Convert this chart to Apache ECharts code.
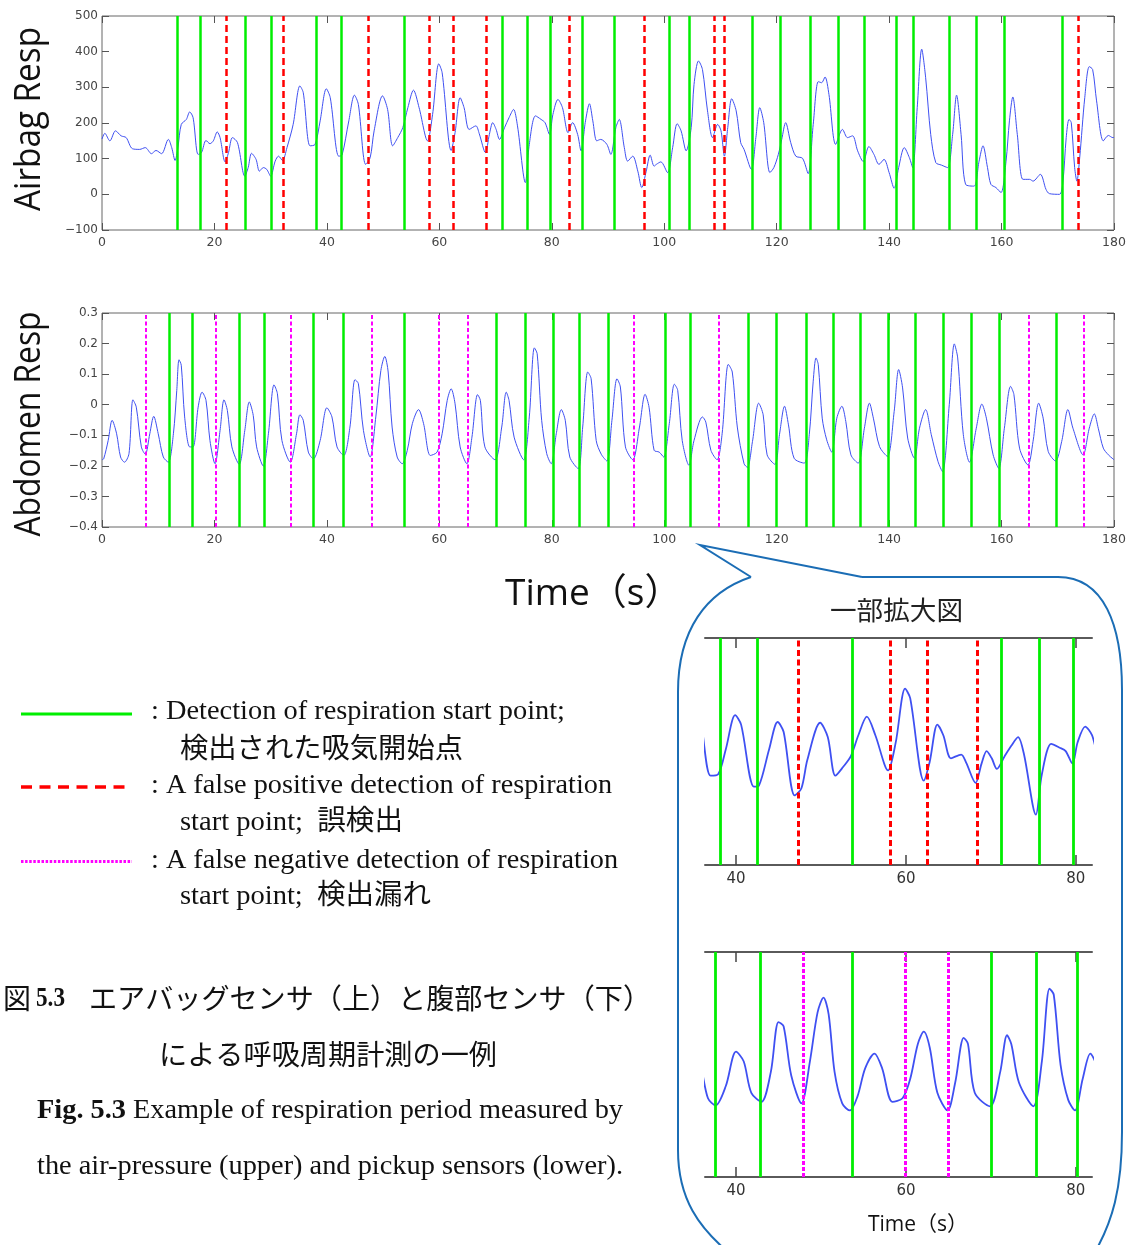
<!DOCTYPE html>
<html><head><meta charset="utf-8">
<script src="https://cdn.jsdelivr.net/npm/echarts@6/dist/echarts.min.js"></script>
<style>html,body{margin:0;padding:0;background:#fff}#c{width:1131px;height:1245px}</style>
</head><body><div id="c"></div>
<script>
// ---------------- DATA ----------------
const airbag = [[0,155],[0.5,171],[1.4,150],[2.4,178],[3.4,164],[4.3,159],[5.4,128],[6.7,126],[7.7,131],[8.8,114],[9.6,123],[10.6,114],[11.8,154],[12.4,131],[13.0,95],[13.5,131],[14.1,196],[15.0,210],[15.6,231],[16.2,215],[17.1,112],[17.7,117],[18.5,151],[19.2,142],[19.8,150],[20.5,175],[21.0,159],[21.9,91],[22.5,117],[23.2,159],[24.1,145],[25.4,51],[26.0,75],[26.6,115],[27.4,98],[28.0,65],[28.7,75],[29.3,70],[30.0,51],[30.8,93],[31.4,107],[32.1,95],[32.9,131],[34.0,196],[35.2,304],[35.8,285],[37.0,136],[37.9,140],[38.8,206],[39.9,296],[40.6,271],[42.1,107],[42.7,110],[43.9,206],[44.9,278],[45.6,252],[46.9,84],[47.7,103],[48.4,178],[49.9,276],[50.8,238],[51.7,136],[52.6,159],[53.5,187],[54.4,243],[55.4,292],[56.4,243],[57.9,150],[58.8,224],[59.9,366],[60.5,341],[62.1,123],[62.8,173],[63.7,271],[64.4,243],[65.3,182],[66.5,192],[67.1,170],[68.2,117],[68.9,168],[69.5,201],[70.1,182],[70.7,154],[71.6,187],[72.4,215],[73.2,238],[73.9,192],[75.3,33],[76.0,140],[77.1,220],[78.1,210],[78.8,201],[79.6,168],[80.2,224],[81.1,266],[81.9,243],[82.9,173],[83.7,201],[84.6,168],[85.2,122],[86.0,206],[86.7,254],[87.3,206],[88.0,150],[88.7,154],[89.8,140],[90.5,112],[91.4,187],[92.0,210],[92.9,131],[93.5,93],[94.4,107],[95.3,65],[96.0,19],[96.8,65],[97.5,110],[98.2,79],[98.6,84],[99.4,91],[100.6,61],[101.5,131],[102.3,198],[103.0,178],[103.9,122],[104.8,187],[105.3,308],[106.1,374],[106.8,350],[107.7,234],[108.6,159],[109.5,196],[110.1,178],[110.7,107],[111.3,187],[112.0,268],[112.8,234],[113.6,145],[114.2,126],[115.5,70],[116.3,159],[117.0,243],[117.7,201],[118.8,61],[119.5,75],[120.3,112],[120.9,154],[121.6,201],[122.5,145],[123.4,107],[124.6,101],[125.6,58],[126.5,196],[127.4,316],[128.0,313],[128.6,329],[129.3,280],[130.5,140],[131.7,182],[132.6,159],[133.5,164],[134.4,122],[135.4,92],[136.4,134],[137.3,112],[138.2,84],[139.1,98],[140.0,61],[140.9,17],[141.7,75],[142.7,131],[143.6,103],[144.2,75],[145.0,243],[145.8,407],[146.5,327],[147.4,168],[148.3,89],[149.3,82],[150.4,75],[151.3,168],[152.0,278],[152.8,168],[153.6,28],[155.1,23],[156.0,93],[156.7,136],[157.5,75],[158.1,28],[159.0,19],[159.9,5],[160.8,93],[161.4,206],[162.0,273],[162.8,168],[163.8,42],[165.0,42],[165.6,37],[166.9,56],[167.9,14],[168.5,2],[170.3,0],[170.9,33],[171.5,159],[172.0,210],[172.4,201],[173.0,75],[173.4,37],[173.9,103],[174.8,271],[175.6,358],[176.2,350],[176.9,262],[178.1,150],[179.0,165],[179.8,159],[180,160]];

const abdomen = [[0,-0.18],[0.3,-0.177],[1.1,-0.117],[1.8,-0.051],[2.6,-0.095],[3.3,-0.171],[4.0,-0.188],[4.8,-0.160],[5.5,0.016],[6.1,-0.008],[7.0,-0.138],[7.7,-0.162],[8.5,-0.095],[9.2,-0.038],[10.0,-0.095],[10.9,-0.171],[11.8,-0.188],[12.7,-0.095],[13.3,0.047],[13.7,0.147],[14.1,0.129],[14.7,-0.040],[15.6,-0.138],[16.2,-0.138],[17.1,-0.008],[17.8,0.041],[18.5,0.014],[19.2,-0.117],[20.1,-0.193],[21.0,-0.084],[21.7,0.016],[22.3,-0.019],[23.1,-0.138],[24.4,-0.195],[25.4,-0.084],[26.2,0.009],[26.9,-0.035],[27.5,-0.138],[28.7,-0.201],[29.6,-0.095],[30.6,0.065],[31.2,0.036],[32.0,-0.117],[33.5,-0.188],[34.6,-0.095],[35.2,-0.033],[35.8,-0.051],[36.7,-0.155],[37.6,-0.177],[38.8,-0.117],[40.0,-0.010],[40.9,-0.040],[41.8,-0.138],[43.0,-0.166],[44.1,-0.073],[45.0,0.082],[45.6,0.069],[46.5,-0.084],[47.7,-0.171],[48.7,-0.040],[49.6,0.112],[50.3,0.158],[50.9,0.107],[51.6,-0.073],[52.5,-0.171],[53.4,-0.193],[54.3,-0.149],[55.2,-0.062],[56.3,-0.016],[57.2,-0.062],[58.4,-0.166],[59.6,-0.155],[60.5,-0.095],[61.4,0.014],[62.1,0.052],[62.8,0.003],[63.7,-0.138],[64.9,-0.193],[65.8,-0.106],[66.8,0.033],[67.3,0.014],[68.1,-0.138],[69.9,-0.180],[71.1,-0.073],[71.9,0.041],[72.4,0.014],[73.3,-0.106],[75.0,-0.180],[76.0,-0.040],[76.9,0.186],[77.4,0.167],[78.2,-0.051],[79.1,-0.160],[79.9,-0.193],[80.8,-0.095],[81.7,-0.016],[82.4,-0.051],[83.2,-0.171],[84.7,-0.209],[85.5,-0.073],[86.4,0.107],[87.0,0.085],[87.9,-0.117],[88.8,-0.162],[89.8,-0.184],[90.7,-0.051],[91.6,0.085],[92.2,0.058],[93.1,-0.138],[94.4,-0.180],[95.6,-0.073],[96.6,0.034],[97.3,-0.008],[98.2,-0.149],[99.1,-0.155],[99.9,-0.171],[100.9,-0.062],[101.8,0.067],[102.4,0.047],[103.2,-0.117],[104.4,-0.198],[105.3,-0.117],[106.8,-0.040],[107.4,-0.057],[108.3,-0.149],[109.4,-0.180],[110.3,-0.095],[111.4,0.132],[112.1,0.107],[113.0,-0.073],[114.2,-0.193],[114.8,-0.205],[115.7,-0.120],[116.8,0.005],[117.6,-0.033],[118.3,-0.164],[119.7,-0.195],[120.5,-0.098],[121.4,-0.005],[122.1,-0.066],[123.1,-0.175],[124.9,-0.191],[125.8,-0.098],[126.5,0.077],[127.0,0.153],[127.4,0.131],[128.1,-0.044],[128.9,-0.115],[129.8,-0.155],[130.7,-0.044],[131.6,-0.005],[132.3,-0.055],[133.2,-0.164],[134.5,-0.191],[135.6,-0.077],[136.5,0.005],[137.2,-0.044],[138.3,-0.137],[139.7,-0.169],[140.9,-0.022],[141.7,0.115],[142.4,0.055],[143.3,-0.109],[144.5,-0.175],[145.4,-0.077],[146.5,-0.016],[147.5,-0.098],[148.7,-0.186],[149.5,-0.219],[150.7,0],[151.6,0.199],[152.2,0.153],[153.2,-0.098],[154.3,-0.188],[155.5,-0.077],[156.5,0.002],[157.3,-0.044],[158.5,-0.164],[159.5,-0.208],[160.5,-0.077],[161.6,0.060],[162.2,0.033],[163.2,-0.142],[164.7,-0.197],[165.6,-0.120],[166.6,0.005],[167.4,-0.044],[168.3,-0.153],[169.6,-0.184],[170.7,-0.120],[171.8,-0.016],[172.7,-0.077],[174.5,-0.164],[175.6,-0.077],[176.5,-0.030],[177.2,-0.077],[178.1,-0.142],[179.0,-0.164],[179.8,-0.177],[180,-0.18]];

const greenTop = [13.3,17.5,25.4,30.1,38.1,42.5,53.7,71.2,75.7,79.7,85.5,91.1,100.9,104.4,115.7,120.7,126.0,130.9,135.5,141.2,144.3,150.7,155.5,160.4,170.8];
const redTop = [22.1,32.2,47.3,58.2,62.5,68.4,83.1,96.4,108.9,110.7,173.6];
const greenBottom = [11.9,16.0,24.5,28.8,37.6,42.9,53.7,70.1,75.3,80.2,84.8,90.0,100.2,104.7,115.0,119.9,125.2,130.1,134.8,139.9,144.6,149.6,154.6,159.6,169.8];
const magentaBottom = [7.8,20.3,33.6,47.9,59.9,65.0,94.5,109.7,164.8,174.7];

const zoomRange = [36.35, 81.9];
const zoomTicks = [40, 60, 80];

// ---------------- HELPERS ----------------
const BLUE = '#3f50f2', GREEN = '#00ee00', RED = '#ff0000', MAGENTA = '#ff00ff', BUBBLE = '#1b6db5';
const TICKF = 'DejaVu Sans';
const SERIF = '"Liberation Serif", "Noto Sans CJK JP"';
const CJK = '"Noto Sans CJK JP"';
const SANS = '"Open Sans", "Noto Sans CJK JP"';
const mctx = document.createElement('canvas').getContext('2d');

function fitText(text, x, y, w, size, family, o = {}) {
  const weight = o.weight || 'normal';
  const font = `${weight} ${size}px ${family}`;
  mctx.font = font;
  const mw = mctx.measureText(text).width;
  return {
    type: 'text', x, y, scaleX: w ? w / mw : 1, rotation: o.rotation || 0, z: 100,
    style: { text, font, fill: o.color || '#111', align: o.align || 'left', verticalAlign: 'middle',
      textAlign: o.align || 'left', textVerticalAlign: 'middle' }
  };
}
const minusFmt = (v, d) => {
  const r = Math.round(v * Math.pow(10, d)) / Math.pow(10, d);
  if (r === 0) return '0';
  const s = Math.abs(r).toFixed(d);
  return r < 0 ? '\u2212' + s : s;
};

function mainX(grid, pos, showLabel) {
  return { type: 'value', gridIndex: grid, position: pos, min: 0, max: 180, interval: 20,
    axisLine: { show: false, onZero: false },
    axisTick: { show: true, inside: true, length: 7, lineStyle: { color: '#555', width: 1 } },
    axisLabel: { show: showLabel, color: '#444', fontSize: 12.5, fontFamily: TICKF, margin: 6 },
    splitLine: { show: false } };
}
function mainY(grid, pos, min, max, interval, dec, showLabel) {
  return { type: 'value', gridIndex: grid, position: pos, min, max, interval,
    axisLine: { show: false, onZero: false },
    axisTick: { show: true, inside: true, length: 7, lineStyle: { color: '#555', width: 1 } },
    axisLabel: { show: showLabel, color: '#444', fontSize: 12, fontFamily: TICKF, margin: 4,
      formatter: v => minusFmt(v, dec) },
    splitLine: { show: false } };
}
function insetX(grid, pos, showLabel) {
  return { type: 'value', gridIndex: grid, position: pos, min: zoomRange[0], max: zoomRange[1],
    axisLine: { show: true, onZero: false, lineStyle: { color: '#5a5a5a', width: 2 } },
    axisTick: { show: true, inside: true, length: 10, customValues: zoomTicks, lineStyle: { color: '#444', width: 1.5 } },
    axisLabel: { show: showLabel, customValues: zoomTicks, color: '#333', fontSize: 15, fontFamily: TICKF, margin: 7 },
    splitLine: { show: false } };
}
function insetY(grid, min, max) {
  return { type: 'value', gridIndex: grid, min, max, show: false, axisLine: { onZero: false }, splitLine: { show: false } };
}
function signal(data, xi, yi, width) {
  return { type: 'line', xAxisIndex: xi, yAxisIndex: yi, data, showSymbol: false, symbol: 'none',
    smooth: 0.3, clip: true, silent: true, lineStyle: { color: BLUE, width } };
}
function vlines(times, xi, yi, color, width, dash) {
  return { type: 'line', xAxisIndex: xi, yAxisIndex: yi, data: [], silent: true, z: 5,
    markLine: { silent: true, symbol: ['none', 'none'], animation: false, label: { show: false },
      emphasis: { disabled: true },
      lineStyle: { color, width, type: dash || 'solid', opacity: 1 },
      data: times.map(t => ({ xAxis: t })) } };
}
const inZoom = t => t >= zoomRange[0] && t <= zoomRange[1];

// ---------------- GRAPHIC (text, legend, callout) ----------------
const G = [];
G.push(fitText('Airbag Resp', 30, 119, 184, 36, SANS, { align: 'center', rotation: Math.PI / 2 }));
G.push(fitText('Abdomen Resp', 30, 424, 225, 36, SANS, { align: 'center', rotation: Math.PI / 2 }));
G.push(fitText('Time（s）', 505, 594, 0, 37, SANS, {}));

// legend
G.push({ type: 'line', shape: { x1: 21, y1: 714, x2: 132, y2: 714 }, style: { stroke: GREEN, lineWidth: 3 } });
G.push({ type: 'line', shape: { x1: 21, y1: 787, x2: 132, y2: 787 }, style: { stroke: RED, lineWidth: 3.5, lineDash: [11, 7.5] } });
G.push({ type: 'line', shape: { x1: 21, y1: 861.5, x2: 132, y2: 861.5 }, style: { stroke: MAGENTA, lineWidth: 3, lineDash: [2.5, 1.6] } });
G.push(fitText(': Detection of respiration start point;', 151, 712, 414, 28, SERIF));
G.push(fitText('検出された吸気開始点', 180, 747, 283, 28, CJK));
G.push(fitText(': A false positive detection of respiration', 151, 786, 461, 28, SERIF));
G.push(fitText('start point;  誤検出', 180, 823, 223, 28, SERIF));
G.push(fitText(': A false negative detection of respiration', 151, 861, 467, 28, SERIF));
G.push(fitText('start point;  検出漏れ', 180, 897, 251, 28, SERIF));

// caption
G.push(fitText('図', 3, 998, 0, 28, CJK));
G.push(fitText('5.3', 36, 999, 29, 27, SERIF, { weight: 'bold' }));
G.push(fitText('エアバッグセンサ（上）と腹部センサ（下）', 89, 998, 562, 28, CJK));
G.push(fitText('による呼吸周期計測の一例', 159, 1054, 338, 28, CJK));
G.push(fitText('Fig. 5.3', 37, 1111, 89, 28, SERIF, { weight: 'bold' }));
G.push(fitText('Example of respiration period measured by', 133, 1111, 490, 28, SERIF));
G.push(fitText('the air-pressure (upper) and pickup sensors (lower).', 37, 1167, 586, 28, SERIF));

// callout bubble
const bs = { stroke: BUBBLE, lineWidth: 2, fill: null };
G.push({ type: 'polyline', shape: { points: [[751, 577], [700, 545], [862, 577]] }, style: bs });
G.push({ type: 'line', shape: { x1: 862, y1: 577, x2: 1058, y2: 577 }, style: bs });
G.push({ type: 'bezierCurve', shape: { x1: 1058, y1: 577, cpx1: 1104, cpy1: 577, cpx2: 1122, cpy2: 625, x2: 1122, y2: 690 }, style: bs });
G.push({ type: 'line', shape: { x1: 1122, y1: 690, x2: 1122, y2: 1132 }, style: bs });
G.push({ type: 'bezierCurve', shape: { x1: 1122, y1: 1132, cpx1: 1122, cpy1: 1190, cpx2: 1112, cpy2: 1222, x2: 1095, y2: 1252 }, style: bs });
G.push({ type: 'bezierCurve', shape: { x1: 751, y1: 577, cpx1: 706, cpy1: 592, cpx2: 678, cpy2: 630, x2: 678, y2: 692 }, style: bs });
G.push({ type: 'line', shape: { x1: 678, y1: 692, x2: 678, y2: 1150 }, style: bs });
G.push({ type: 'bezierCurve', shape: { x1: 678, y1: 1150, cpx1: 678, cpy1: 1200, cpx2: 700, cpy2: 1228, x2: 728, y2: 1252 }, style: bs });
G.push(fitText('一部拡大図', 830, 610, 133, 26, CJK, { color: '#222' }));
G.push(fitText('Time（s）', 868, 1225, 0, 21, SANS, { color: '#111' }));

// ---------------- OPTION ----------------
const option = {
  animation: false,
  backgroundColor: '#fff',
  grid: [
    { left: 102, top: 16, width: 1012, height: 214, show: true, borderColor: '#666', borderWidth: 1, backgroundColor: 'transparent' },
    { left: 102, top: 313, width: 1012, height: 214, show: true, borderColor: '#666', borderWidth: 1, backgroundColor: 'transparent' },
    { left: 705, top: 638, width: 387, height: 227, show: false },
    { left: 705, top: 952, width: 387, height: 225, show: false }
  ],
  xAxis: [
    mainX(0, 'bottom', true), mainX(0, 'top', false),
    mainX(1, 'bottom', true), mainX(1, 'top', false),
    insetX(2, 'bottom', true), insetX(2, 'top', false),
    insetX(3, 'bottom', true), insetX(3, 'top', false)
  ],
  yAxis: [
    mainY(0, 'left', -100, 500, 100, 0, true), mainY(0, 'right', -100, 500, 100, 0, false),
    mainY(1, 'left', -0.4, 0.3, 0.1, 1, true), mainY(1, 'right', -0.4, 0.3, 0.1, 1, false),
    insetY(2, -100, 500), insetY(3, -0.4, 0.3)
  ],
  series: [
    signal(airbag, 0, 0, 1),
    vlines(greenTop, 0, 0, GREEN, 2.5),
    vlines(redTop, 0, 0, RED, 2.5, [7, 4]),
    signal(abdomen, 2, 2, 1),
    vlines(greenBottom, 2, 2, GREEN, 2.5),
    vlines(magentaBottom, 2, 2, MAGENTA, 2, [4, 2.5]),
    signal(airbag, 4, 4, 1.8),
    vlines(greenTop.filter(inZoom), 4, 4, GREEN, 2.8),
    vlines(redTop.filter(inZoom), 4, 4, RED, 3, [6, 3.5]),
    signal(abdomen, 6, 5, 1.8),
    vlines(greenBottom.filter(inZoom), 6, 5, GREEN, 2.8),
    vlines(magentaBottom.filter(inZoom), 6, 5, MAGENTA, 3, [4, 2])
  ],
  graphic: { elements: G }
};
const chart = echarts.init(document.getElementById('c'), null, { renderer: 'canvas' });
chart.setOption(option);
</script></body></html>
